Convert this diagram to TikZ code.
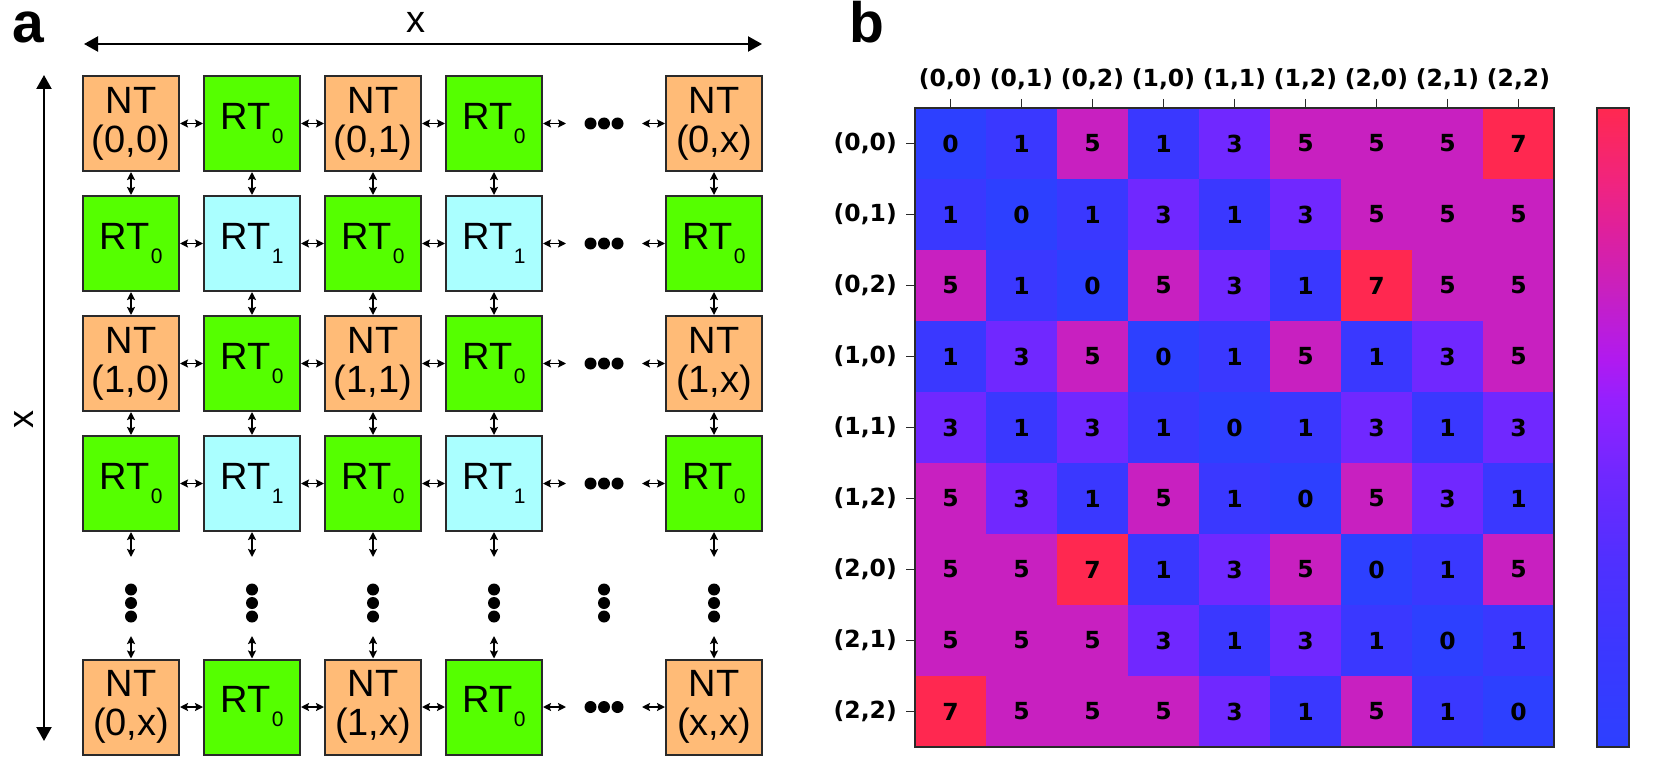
\documentclass[tikz,border=0pt]{standalone}
\usepackage{fontspec}
\setmainfont{Liberation Sans}
\newfontfamily\djv{DejaVu Sans}
\usetikzlibrary{arrows.meta}
\definecolor{ntc}{HTML}{FFBB77}
\definecolor{rtzc}{HTML}{55FF00}
\definecolor{rtoc}{HTML}{AAFFFF}
\definecolor{bd}{HTML}{2A2A2A}
\definecolor{hm0}{HTML}{2D40FF}
\definecolor{hm1}{HTML}{3A38FF}
\definecolor{hm3}{HTML}{7028FF}
\definecolor{hm5}{HTML}{C820C0}
\definecolor{hm7}{HTML}{FF2850}
\definecolor{s0}{HTML}{FF2850}
\definecolor{s1}{HTML}{F02480}
\definecolor{s2}{HTML}{E0209A}
\definecolor{s3}{HTML}{C820C0}
\definecolor{s4}{HTML}{B01AF0}
\definecolor{s5}{HTML}{9420FF}
\definecolor{s6}{HTML}{7028FF}
\definecolor{s7}{HTML}{5030FF}
\definecolor{s8}{HTML}{3A38FF}
\definecolor{s9}{HTML}{2D40FF}
\newcommand\rtsub[1]{RT\kern1.5pt\raisebox{-14pt}{\fontsize{21}{21}\selectfont #1}}
\newcommand\hmrow[2]{%
  \foreach \v [count=\c from 0] in {#2} {
    \node[cell, fill=hm\v] (c-#1-\c) at ({950.5+71*\c},{143.5+71*#1}) {\v};
  }}
\begin{document}
\begin{tikzpicture}[x=1pt,y=-1pt,
  box/.style={draw=bd, line width=2pt, minimum width=96pt, minimum height=95pt,
    inner sep=0pt, align=center, font=\fontsize{38}{39}\selectfont},
  nt/.style={box, fill=ntc},
  rz/.style={box, fill=rtzc},
  ro/.style={box, fill=rtoc},
  link/.style={{Stealth[length=8pt,width=8pt,inset=1.5pt]}-{Stealth[length=8pt,width=8pt,inset=1.5pt]}, line width=1.8pt, draw=black},
  axisarrow/.style={{Triangle[length=14pt,width=15pt]}-{Triangle[length=14pt,width=15pt]}, line width=2.2pt},
  panel/.style={font=\fontsize{57}{57}\selectfont\bfseries, inner sep=0pt, anchor=base},
  cell/.style={minimum size=71.6pt, inner sep=0pt, text=black,
    font=\djv\bfseries\fontsize{23.5}{23.5}\selectfont},
  lbl/.style={inner sep=0pt, text=black, font=\djv\bfseries\fontsize{23.5}{23.5}\selectfont},
  tick/.style={line width=1.6pt, draw=bd},
  dot/.style={fill=black}
]
\useasboundingbox (0,0) rectangle (1659,762);

% ---------- panel a ----------
\node[panel] (la) at (28,43) {a};
\node[panel] (lb) at (867,43) {b};

\coordinate (hl) at (84,44);
\coordinate (hr) at (762,44);
\draw[axisarrow] (hl) -- (hr);
\node[font=\fontsize{38}{38}\selectfont, inner sep=0pt, anchor=base] (xt) at (416,33) {x};

\coordinate (vt) at (44,75);
\coordinate (vb) at (44,741);
\draw[axisarrow] (vt) -- (vb);
\node[font=\fontsize{36}{36}\selectfont, inner sep=0pt, rotate=90] (xl) at (24,419) {x};

% row 0
\node[nt] (n00) at (131,123.5) {NT\\(0,0)};
\node[rz] (n01) at (252,123.5) {\rtsub0};
\node[nt] (n02) at (373,123.5) {NT\\(0,1)};
\node[rz] (n03) at (494,123.5) {\rtsub0};
\node[nt] (n04) at (714,123.5) {NT\\(0,x)};
% row 1
\node[rz] (n10) at (131,243.5) {\rtsub0};
\node[ro] (n11) at (252,243.5) {\rtsub1};
\node[rz] (n12) at (373,243.5) {\rtsub0};
\node[ro] (n13) at (494,243.5) {\rtsub1};
\node[rz] (n14) at (714,243.5) {\rtsub0};
% row 2
\node[nt] (n20) at (131,363.5) {NT\\(1,0)};
\node[rz] (n21) at (252,363.5) {\rtsub0};
\node[nt] (n22) at (373,363.5) {NT\\(1,1)};
\node[rz] (n23) at (494,363.5) {\rtsub0};
\node[nt] (n24) at (714,363.5) {NT\\(1,x)};
% row 3
\node[rz] (n30) at (131,483.5) {\rtsub0};
\node[ro] (n31) at (252,483.5) {\rtsub1};
\node[rz] (n32) at (373,483.5) {\rtsub0};
\node[ro] (n33) at (494,483.5) {\rtsub1};
\node[rz] (n34) at (714,483.5) {\rtsub0};
% last row
\node[nt] (n40) at (131,707) {NT\\(0,x)};
\node[rz] (n41) at (252,707) {\rtsub0};
\node[nt] (n42) at (373,707) {NT\\(1,x)};
\node[rz] (n43) at (494,707) {\rtsub0};
\node[nt] (n44) at (714,707) {NT\\(x,x)};

% horizontal links and dots
\foreach \r/\y in {0/123.5,1/243.5,2/363.5,3/483.5,4/707} {
  \coordinate (hA\r) at (566,\y);
  \coordinate (hB\r) at (642,\y);
  \draw[link] (n\r0) -- (n\r1);
  \draw[link] (n\r1) -- (n\r2);
  \draw[link] (n\r2) -- (n\r3);
  \draw[link] (n\r3) -- (hA\r);
  \draw[link] (hB\r) -- (n\r4);
  \foreach \dx in {590.5,604,617.5} \fill[dot] (\dx,\y) circle (6pt);
}
% vertical links and dots
\foreach \c/\x in {0/131,1/252,2/373,3/494,4/714} {
  \coordinate (vA\c) at (\x,557);
  \coordinate (vB\c) at (\x,636);
  \draw[link] (n0\c) -- (n1\c);
  \draw[link] (n1\c) -- (n2\c);
  \draw[link] (n2\c) -- (n3\c);
  \draw[link] (n3\c) -- (vA\c);
  \draw[link] (vB\c) -- (n4\c);
}
\foreach \x in {131,252,373,494,604,714}
  \foreach \dy in {589.5,603,616.5} \fill[dot] (\x,\dy) circle (6pt);

% ---------- panel b ----------
\hmrow{0}{0,1,5,1,3,5,5,5,7}
\hmrow{1}{1,0,1,3,1,3,5,5,5}
\hmrow{2}{5,1,0,5,3,1,7,5,5}
\hmrow{3}{1,3,5,0,1,5,1,3,5}
\hmrow{4}{3,1,3,1,0,1,3,1,3}
\hmrow{5}{5,3,1,5,1,0,5,3,1}
\hmrow{6}{5,5,7,1,3,5,0,1,5}
\hmrow{7}{5,5,5,3,1,3,1,0,1}
\hmrow{8}{7,5,5,5,3,1,5,1,0}
\draw[line width=2pt, draw=bd] (915,108) rectangle (1554,747);

\foreach \lab [count=\i from 0] in {{(0,0)},{(0,1)},{(0,2)},{(1,0)},{(1,1)},{(1,2)},{(2,0)},{(2,1)},{(2,2)}} {
  \node[lbl] (cl\i) at ({950.5+71*\i},79) {\lab};
  \node[lbl, anchor=east] (rl\i) at (897,{143.5+71*\i}) {\lab};
  \draw[tick] ({950.5+71*\i},99) -- ({950.5+71*\i},108);
  \draw[tick] (906,{143.5+71*\i}) -- (915,{143.5+71*\i});
}

% colorbar
\foreach \ya/\yb/\ca/\cb in {108/184.5/s0/s1,184/226.5/s1/s2,226/291.5/s2/s3,291/360.5/s3/s4,360/400.5/s4/s5,400/473.5/s5/s6,473/560.5/s6/s7,560/656.5/s7/s8,656/747/s8/s9}
  \shade[top color=\ca, bottom color=\cb] (1597,\ya) rectangle (1629,\yb);
\draw[line width=2pt, draw=bd] (1597,108) rectangle (1629,747);
\end{tikzpicture}
\end{document}
